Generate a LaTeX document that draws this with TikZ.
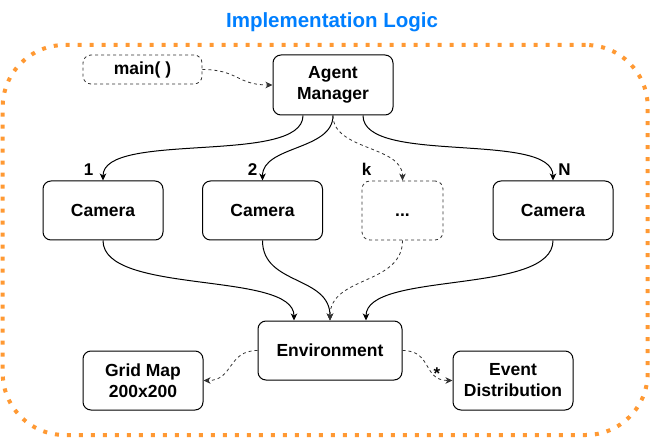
\documentclass[tikz,border=0pt]{standalone}
\usepackage{fontspec}
\setmainfont{Liberation Sans}
\usetikzlibrary{arrows.meta,calc}
\definecolor{titleblue}{HTML}{007FFF}
\definecolor{borderorange}{HTML}{FF9933}
\definecolor{dashgray}{HTML}{333333}
\begin{document}
\begin{tikzpicture}[x=1pt,y=-1pt,
  box/.style={draw=black, line width=1pt, rounded corners=8pt, fill=white, align=center,
    inner sep=0pt, minimum width=120pt, minimum height=59pt,
    font=\fontsize{17.5}{21}\selectfont\bfseries},
  dbox/.style={box, draw=dashgray, dash pattern=on 3pt off 3pt, line width=0.8pt},
  conn/.style={line width=1pt, -{Stealth[length=7pt,width=6.5pt,inset=2pt]}},
  dconn/.style={conn, draw=dashgray, dash pattern=on 3pt off 3pt, line width=0.8pt},
  lbl/.style={font=\fontsize{17}{20}\selectfont\bfseries, inner sep=0pt, anchor=base},
  frame/.style={draw=borderorange, line width=4pt, dash pattern=on 4pt off 8pt,
    rounded corners=62pt, inner sep=0pt}]
\useasboundingbox (0,0) rectangle (650,438);
\node[font=\fontsize{20.5}{24}\selectfont\bfseries, text=titleblue, anchor=base] (title) at (332,28) {Implementation Logic};
\node[frame, minimum width=645pt, minimum height=390pt] (border) at (325.2,240) {};

\node[dbox, minimum width=119pt, minimum height=29pt] (main) at (142.5,69.5) {main( )};
\node[box, minimum height=60pt] (am) at (333,85) {Agent\\Manager};
\node[box] (c1) at (103,210.5) {Camera};
\node[box] (c2) at (262.5,210.5) {Camera};
\node[dbox, minimum width=81pt] (ck) at (402.5,210.5) {\vphantom{C}...};
\node[box] (cn) at (553,210.5) {Camera};
\node[box, minimum width=144pt] (env) at (330,350.5) {Environment};
\node[box] (grid) at (143,380.5) {Grid Map\\200x200};
\node[box] (ev) at (513,380.5) {Event\\Distribution};

\draw[dconn] (main.east) .. controls +(35,0) and +(-35,0) .. (am.west);

\draw[conn] ([xshift=-30pt]am.south) .. controls +(0,50) and +(0,-50) .. (c1.north);
\draw[conn] (am.south) .. controls +(0,35) and +(0,-35) .. (c2.north);
\draw[dconn] (am.south) .. controls +(0,35) and +(0,-35) .. (ck.north);
\draw[conn] ([xshift=30pt]am.south) .. controls +(0,50) and +(0,-50) .. (cn.north);

\draw[conn] (c1.south) .. controls +(0,55) and +(0,-50) .. ([xshift=-36pt]env.north);
\draw[conn] (c2.south) .. controls +(0,45) and +(0,-45) .. (env.north);
\draw[dconn] (ck.south) .. controls +(0,45) and +(0,-45) .. (env.north);
\draw[conn] (cn.south) .. controls +(0,55) and +(0,-50) .. ([xshift=36pt]env.north);

\draw[dconn] (env.west) .. controls +(-30,0) and +(30,0) .. (grid.east);
\draw[dconn] (env.east) .. controls +(30,0) and +(-30,0) .. (ev.west);

\node[lbl] (l1) at (88.5,176) {1};
\node[lbl] (l2) at (252.5,176) {2};
\node[lbl] (lk) at (366.5,176) {k};
\node[lbl] (ln) at (564.5,176) {N};
\node[lbl] (lstar) at (437,379) {*};
\end{tikzpicture}
\end{document}
